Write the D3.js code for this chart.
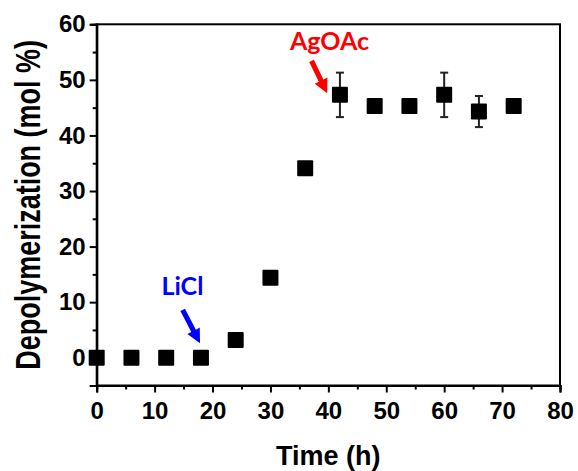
<!DOCTYPE html>
<html>
<head>
<meta charset="utf-8">
<script src="https://cdn.jsdelivr.net/npm/d3@7"></script>
<style>
  html, body { margin: 0; padding: 0; background: #fff; }
  svg { display: block; }
</style>
</head>
<body>
<svg id="chart" width="578" height="471"></svg>
<script>
// Depolymerization over time
const timeH = [0, 6, 12, 18, 24, 30, 36, 42, 48, 54, 60, 66, 72];
const depolymerization = [0, 0, 0, 0, 3.2, 14.4, 34.1, 47.3, 45.3, 45.3, 47.3, 44.3, 45.3];
const errorBars = [0, 0, 0, 0, 0, 0, 0, 4.0, 0, 0, 4.0, 2.8, 0];

const xTicks = [0, 10, 20, 30, 40, 50, 60, 70, 80];
const yTicks = [0, 10, 20, 30, 40, 50, 60];
const xMinor = [5, 15, 25, 35, 45, 55, 65, 75];
const yMinor = [5, 15, 25, 35, 45, 55];

// Reagent additions: label position, arrow tail and tip (data units)
const notes = [
  { text: "AgOAc", color: "#ff0000", lx: 40.2, ly: 55.4, tail: [37.1, 53.4], tip: [39.8, 47.6] },
  { text: "LiCl", color: "#0000ff", lx: 14.8, ly: 11.3, tail: [14.85, 8.6], tip: [17.84, 2.6] }
];

const svg = d3.select("#chart");
const x = d3.scaleLinear().domain([0, 80]).range([96.7, 560]);
const y = d3.scaleLinear().domain([-5, 60]).range([385.5, 24.3]);

const tickFont = "'Liberation Sans', Arial, sans-serif";
const noteFont = "Lato, 'Open Sans', sans-serif";

// Frame
svg.append("rect")
  .attr("x", x(0)).attr("y", y(60))
  .attr("width", x(80) - x(0)).attr("height", y(-5) - y(60))
  .attr("fill", "none").attr("stroke", "#000").attr("stroke-width", 2);

// Bottom axis
svg.append("g")
  .attr("transform", `translate(0,${y(-5)})`)
  .call(d3.axisBottom(x).tickValues(xTicks).tickSize(7).tickPadding(9).tickFormat(d3.format("d")));
svg.append("g")
  .attr("transform", `translate(0,${y(-5)})`)
  .call(d3.axisBottom(x).tickValues(xMinor).tickSize(4).tickFormat(""));

// Left axis
svg.append("g")
  .attr("transform", `translate(${x(0)},0)`)
  .call(d3.axisLeft(y).tickValues(yTicks).tickSize(7).tickPadding(4).tickFormat(d3.format("d")));
svg.append("g")
  .attr("transform", `translate(${x(0)},0)`)
  .call(d3.axisLeft(y).tickValues(yMinor).tickSize(4).tickFormat(""));

svg.selectAll(".domain").attr("stroke", "#000").attr("stroke-width", 2);
svg.selectAll(".tick line").attr("stroke", "#000").attr("stroke-width", 2);
svg.selectAll(".tick text")
  .attr("font-family", tickFont).attr("font-weight", "bold")
  .attr("font-size", 24).attr("fill", "#000");

// Axis titles
svg.append("text")
  .attr("x", (x(0) + x(80)) / 2).attr("y", 465)
  .attr("text-anchor", "middle")
  .attr("font-family", tickFont).attr("font-weight", "bold").attr("font-size", 27)
  .text("Time (h)");

svg.append("text")
  .attr("transform", `translate(40,${(y(60) + y(-5)) / 2}) rotate(-90) scale(1,1.3)`)
  .attr("text-anchor", "middle")
  .attr("font-family", tickFont).attr("font-weight", "bold").attr("font-size", 27)
  .text("Depolymerization (mol %)");

// Error bars
const pts = timeH.map((t, i) => ({ t, v: depolymerization[i], e: errorBars[i] }));
const eb = svg.append("g").selectAll("g").data(pts.filter(d => d.e > 0)).join("g")
  .attr("stroke", "#222").attr("stroke-width", 2);
eb.append("line")
  .attr("x1", d => x(d.t)).attr("x2", d => x(d.t))
  .attr("y1", d => y(d.v - d.e)).attr("y2", d => y(d.v + d.e));
eb.append("line")
  .attr("x1", d => x(d.t) - 4).attr("x2", d => x(d.t) + 4)
  .attr("y1", d => y(d.v + d.e)).attr("y2", d => y(d.v + d.e));
eb.append("line")
  .attr("x1", d => x(d.t) - 4).attr("x2", d => x(d.t) + 4)
  .attr("y1", d => y(d.v - d.e)).attr("y2", d => y(d.v - d.e));

// Square markers
const s = 16;
svg.append("g").selectAll("rect").data(pts).join("rect")
  .attr("x", d => x(d.t) - s / 2).attr("y", d => y(d.v) - s / 2)
  .attr("width", s).attr("height", s).attr("rx", 1)
  .attr("fill", "#000");

// Annotation arrows and labels
function arrowPath(x0, y0, x1, y1) {
  const dx = x1 - x0, dy = y1 - y0;
  const len = Math.hypot(dx, dy);
  const ux = dx / len, uy = dy / len, nx = -uy, ny = ux;
  const head = 14, hw = 7, sw = 2.6;
  const bx = x1 - ux * head, by = y1 - uy * head;
  const p = [
    [x0 + nx * sw, y0 + ny * sw],
    [bx + nx * sw, by + ny * sw],
    [bx + nx * hw, by + ny * hw],
    [x1, y1],
    [bx - nx * hw, by - ny * hw],
    [bx - nx * sw, by - ny * sw],
    [x0 - nx * sw, y0 - ny * sw]
  ];
  return "M" + p.map(q => q.join(",")).join("L") + "Z";
}

const ng = svg.append("g").selectAll("g").data(notes).join("g");
ng.append("path")
  .attr("d", d => arrowPath(x(d.tail[0]), y(d.tail[1]), x(d.tip[0]), y(d.tip[1])))
  .attr("fill", d => d.color);
ng.append("text")
  .attr("x", d => x(d.lx)).attr("y", d => y(d.ly))
  .attr("text-anchor", "middle")
  .attr("font-family", noteFont).attr("font-weight", "bold").attr("font-size", 25)
  .attr("fill", d => d.color)
  .text(d => d.text);
</script>
</body>
</html>
